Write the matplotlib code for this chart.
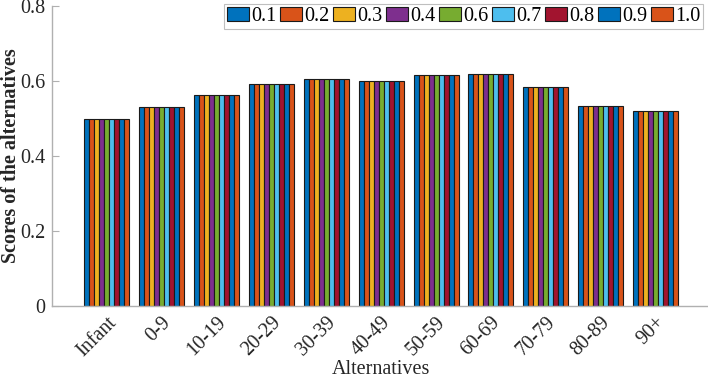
import matplotlib
matplotlib.use('Agg')

import matplotlib.pyplot as plt
import numpy as np

# chart data
categories = ['Infant', '0-9', '10-19', '20-29', '30-39', '40-49',
              '50-59', '60-69', '70-79', '80-89', '90+']
weights = ['0.1', '0.2', '0.3', '0.4', '0.6', '0.7', '0.8', '0.9', '1.0']
scores = [0.500, 0.532, 0.563, 0.592, 0.605, 0.600,
          0.616, 0.619, 0.584, 0.534, 0.521]
yticks = [0, 0.2, 0.4, 0.6, 0.8]
colors = ['#0072BD', '#D95319', '#EDB120', '#7E2F8E', '#77AC30',
          '#4DBEEE', '#A2142F', '#0072BD', '#D95319']

plt.rcParams['font.family'] = ['Liberation Serif', 'DejaVu Serif']

fig = plt.figure(figsize=(7.08, 3.82), dpi=100)
ax = fig.add_axes([0.0734, 0.199, 0.93, 0.785])

x = np.arange(1, len(categories) + 1)
n = len(weights)
group_w = 0.82
bw = group_w / n
for i, w in enumerate(weights):
    offs = -group_w / 2 + bw * (i + 0.5)
    ax.bar(x + offs, scores, width=bw, color=colors[i],
           edgecolor='#1a1a1a', linewidth=0.8, label=w)

ax.set_xlim(0, 12)
ax.set_ylim(0, 0.8)
ax.set_yticks(yticks)
ax.set_yticklabels(['0', '0.2', '0.4', '0.6', '0.8'])
ax.set_xticks(x)
ax.set_xticklabels(categories, rotation=45, ha='right', va='top',
                   rotation_mode='anchor')

for s in ['top', 'right']:
    ax.spines[s].set_visible(False)
for s in ['left', 'bottom']:
    ax.spines[s].set_color('#b0b0b0')
    ax.spines[s].set_linewidth(1.0)
ax.tick_params(axis='both', direction='in', color='#b0b0b0',
               labelsize=14.5, labelcolor='#262626', length=5)
ax.tick_params(axis='y', pad=5)
ax.tick_params(axis='x', length=0, pad=5)

ax.set_xlabel('Alternatives', fontsize=14.5, color='#262626', labelpad=0)
ax.set_ylabel('Scores of the alternatives', fontsize=14.5, fontweight='bold',
              color='#262626')
ax.yaxis.set_label_coords(-0.047, 0.5)

leg = ax.legend(ncol=9, loc='upper right', bbox_to_anchor=(703 / 708, 1 - 4 / 382),
                bbox_transform=fig.transFigure,
                fontsize=14.5, frameon=True, fancybox=False, edgecolor='#b0b0b0',
                handlelength=1.1, handleheight=0.65, handletextpad=0.1,
                columnspacing=0.18, borderpad=0.15, borderaxespad=0)
leg.get_frame().set_linewidth(0.8)

fig.savefig('out.png', dpi=100)
